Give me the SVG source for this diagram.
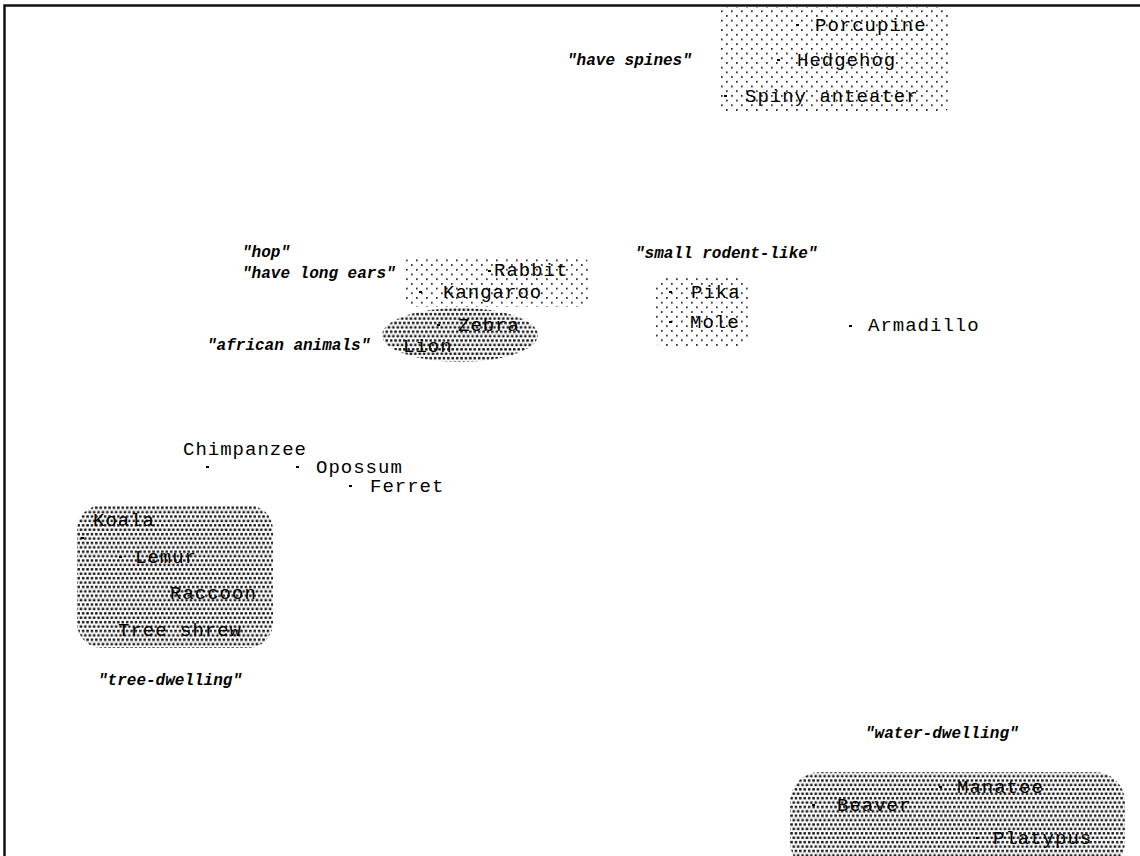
<svg xmlns="http://www.w3.org/2000/svg" width="1140" height="856" viewBox="0 0 1140 856">
<style>
.n{font-family:"Liberation Mono","DejaVu Sans Mono",monospace;font-size:19px;letter-spacing:1px;fill:#000}
.g{font-family:"Liberation Mono","DejaVu Sans Mono",monospace;font-size:16px;font-style:italic;font-weight:bold;fill:#000}
.m{fill:#000}
.light{fill:url(#lightDots)}
.dark{fill:url(#darkDots)}
</style>
<defs>
<pattern id="lightDots" width="10" height="9.4" patternUnits="userSpaceOnUse">
<rect x="1" y="1" width="1.7" height="1.7" fill="#222"/>
<rect x="6" y="5.7" width="1.7" height="1.7" fill="#222"/>
</pattern>
<pattern id="darkDots" width="4.4" height="8.8" patternUnits="userSpaceOnUse">
<rect x="0.5" y="0.5" width="2.5" height="2.5" fill="#1a1a1a"/>
<rect x="2.7" y="4.9" width="2.5" height="2.5" fill="#1a1a1a"/>
<rect x="-1.7" y="4.9" width="2.5" height="2.5" fill="#1a1a1a"/>
</pattern>
</defs>
<rect width="1140" height="856" fill="#fff"/>
<path d="M4.5,856 V5.5 H1140" fill="none" stroke="#111" stroke-width="2.5"/>

<g id="regions">
<rect id="region-spines" class="light" x="718" y="7" width="232" height="106" rx="10"/>
<rect id="region-ears" class="light" x="403" y="257" width="187" height="50" rx="10"/>
<ellipse id="region-african" class="dark" cx="460" cy="335" rx="78" ry="27"/>
<rect id="region-rodent" class="light" x="655" y="277" width="93" height="71" rx="10"/>
<rect id="region-tree" class="dark" x="77" y="505" width="196" height="143" rx="25"/>
<rect id="region-water" class="dark" x="790" y="772" width="335" height="100" rx="30"/>
</g>

<g id="group-labels">
<text id="label-spines" class="g" x="567" y="65">"have spines"</text>
<text id="label-hop" class="g" x="242" y="257">"hop"</text>
<text id="label-ears" class="g" x="242" y="278">"have long ears"</text>
<text id="label-african" class="g" x="207" y="350">"african animals"</text>
<text id="label-rodent" class="g" x="635" y="258">"small rodent-like"</text>
<text id="label-tree" class="g" x="98" y="685">"tree-dwelling"</text>
<text id="label-water" class="g" x="865" y="738">"water-dwelling"</text>
</g>

<g id="connectors"></g>

<g id="porcupine"><rect class="m" x="796" y="24" width="3" height="2"/><text class="n" x="815" y="31">Porcupine</text></g>
<g id="hedgehog"><rect class="m" x="777" y="59" width="3" height="2"/><text class="n" x="797" y="66">Hedgehog</text></g>
<g id="spiny-anteater"><rect class="m" x="724" y="95" width="3" height="2"/><text class="n" x="745" y="102">Spiny anteater</text></g>

<g id="rabbit"><rect class="m" x="488" y="270" width="3" height="2"/><text class="n" x="494" y="276">Rabbit</text></g>
<g id="kangaroo"><rect class="m" x="419" y="291" width="3" height="2"/><text class="n" x="443" y="298">Kangaroo</text></g>
<g id="zebra"><rect class="m" x="437" y="324" width="3" height="2"/><text class="n" x="458" y="331">Zebra</text></g>
<g id="lion"><text class="n" x="403" y="352">Lion</text></g>

<g id="pika"><rect class="m" x="669" y="291" width="3" height="2"/><text class="n" x="691" y="298">Pika</text></g>
<g id="mole"><rect class="m" x="669" y="321" width="3" height="2"/><text class="n" x="690" y="328">Mole</text></g>
<g id="armadillo"><rect class="m" x="849" y="325" width="3" height="2"/><text class="n" x="868" y="331">Armadillo</text></g>

<g id="chimpanzee"><rect class="m" x="206" y="466" width="3" height="2"/><text class="n" x="183" y="455">Chimpanzee</text></g>
<g id="opossum"><rect class="m" x="296" y="466" width="3" height="2"/><text class="n" x="316" y="473">Opossum</text></g>
<g id="ferret"><rect class="m" x="349" y="485" width="3" height="2"/><text class="n" x="370" y="492">Ferret</text></g>

<g id="koala"><rect class="m" x="81" y="537" width="3" height="2"/><text class="n" x="93" y="526">Koala</text></g>
<g id="lemur"><rect class="m" x="119" y="556" width="3" height="2"/><text class="n" x="135" y="563">Lemur</text></g>
<g id="raccoon"><text class="n" x="170" y="599">Raccoon</text></g>
<g id="tree-shrew"><text class="n" x="118" y="636">Tree shrew</text></g>

<g id="manatee"><rect class="m" x="939" y="786" width="3" height="2"/><text class="n" x="957" y="793">Manatee</text></g>
<g id="beaver"><rect class="m" x="812" y="804" width="3" height="2"/><text class="n" x="837" y="811">Beaver</text></g>
<g id="platypus"><rect class="m" x="976" y="837" width="3" height="2"/><text class="n" x="993" y="844">Platypus</text></g>
</svg>
